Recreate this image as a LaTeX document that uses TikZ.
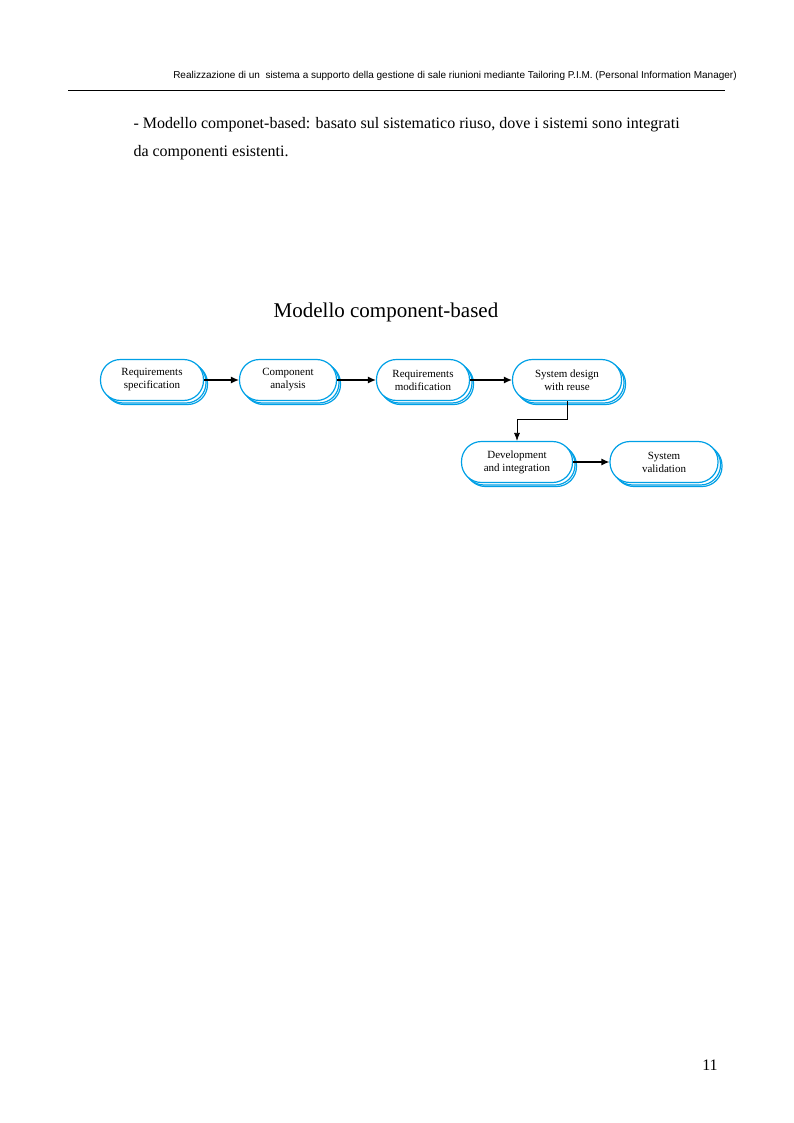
\documentclass[tikz,border=0pt]{standalone}
\usepackage{fontspec}
\setmainfont{Liberation Serif}
\newfontfamily\hdr{Liberation Sans}
\usetikzlibrary{arrows.meta,calc}
\definecolor{bblue}{RGB}{0,160,230}
\newcommand{\pillnode}[5]{%
  \foreach \d in {4,2.5}{\node[pill,minimum width=#4pt] at ($(#2,#3)+(\d,\d)$) {};}
  \node[pill,minimum width=#4pt] (#1) at (#2,#3) {#5};}
\begin{document}
\begin{tikzpicture}[x=1pt,y=-1pt,
  pill/.style={draw=bblue,line width=1.2pt,fill=white,rounded corners=20pt,minimum height=41pt,align=center,font=\fontsize{11}{13}\selectfont,inner sep=1pt},
  conn/.style={line width=1.3pt,-{Latex[length=8pt,width=7pt]}}]
\useasboundingbox (0,0) rectangle (793,1123);
\node[font=\hdr\fontsize{10}{12}\selectfont] (h) at (455,76) {Realizzazione di un\ \ sistema a supporto della gestione di sale riunioni mediante Tailoring P.I.M. (Personal Information Manager)};
\draw[line width=0.6pt] (68,90) -- (725,90);
\node[anchor=west,font=\fontsize{16}{18}\selectfont] (t1) at (130,125) {- Modello componet-based: basato sul sistematico riuso, dove i sistemi sono integrati};
\node[anchor=west,font=\fontsize{16}{18}\selectfont] (t2) at (130,153) {da componenti esistenti.};
\node[font=\fontsize{21}{24}\selectfont] (title) at (386,312) {Modello component-based};
\pillnode{a}{152}{380}{103}{Requirements\\specification}
\pillnode{b}{288}{380}{97}{Component\\analysis}
\pillnode{c}{423}{380}{93}{Requirements\\modification}
\pillnode{d}{567}{380}{109}{System design\\with reuse}
\pillnode{e}{517}{462}{111}{Development\\and integration}
\pillnode{f}{664}{462}{108}{System\\validation}
\draw[conn] (a.east) -- (b.west);
\draw[conn] (b.east) -- (c.west);
\draw[conn] (c.east) -- (d.west);
\draw[line width=0.7pt,-{Latex[length=8pt,width=6pt]}] (d.south) -- ++(0,18) -| (e.north);
\draw[conn] (e.east) -- (f.west);
\node[font=\fontsize{16}{18}\selectfont] (pg) at (710,1065) {11};
\end{tikzpicture}
\end{document}
